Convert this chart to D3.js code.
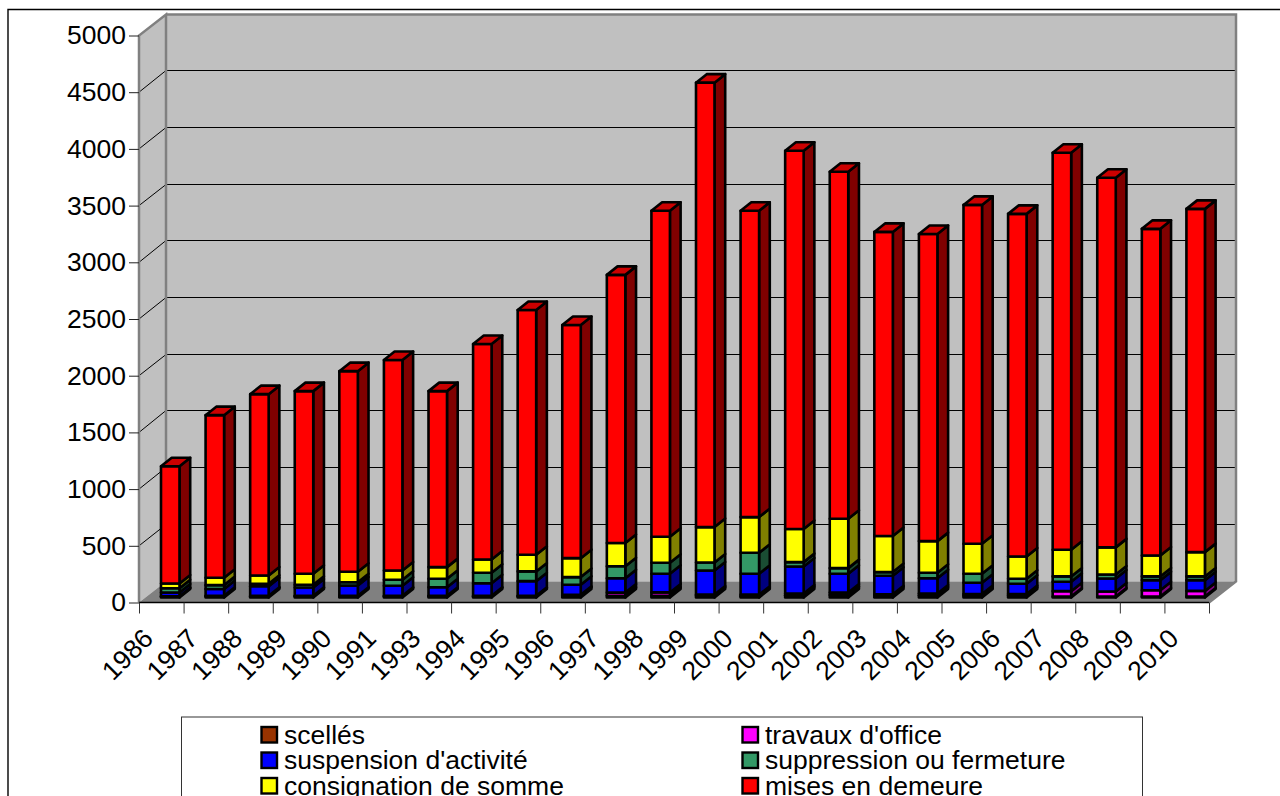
<!DOCTYPE html>
<html lang="fr">
<head>
<meta charset="utf-8">
<script src="https://cdn.jsdelivr.net/npm/d3@7"></script>
<style>
html,body{margin:0;padding:0;background:#fff;overflow:hidden}
svg{display:block}
text{font-family:"Liberation Sans",Arial,sans-serif;fill:#000}
</style>
</head>
<body>
<svg id="chart" width="1280" height="796"></svg>
<script>
// Sanctions administratives par année, empilées du bas vers le haut
const years = ["1986","1987","1988","1989","1990","1991","1993","1994","1995","1996","1997","1998","1999","2000","2001","2002","2003","2004","2005","2006","2007","2008","2009","2010"];
const scelles = [8,12,12,12,12,12,12,12,12,15,15,15,15,12,20,22,20,18,15,15,8,8,8,8];
const travaux = [2,3,3,3,3,3,3,3,3,8,28,30,12,13,15,22,8,17,15,15,48,45,56,50];
const suspension = [34,60,85,73,90,88,76,111,129,89,127,164,211,184,239,165,164,135,100,91,83,115,89,95];
const suppression = [38,34,21,25,30,53,74,92,86,68,106,97,71,185,38,50,32,48,79,44,47,35,33,33];
const consignation = [42,65,73,96,92,82,103,117,147,167,204,230,312,315,292,436,318,279,265,197,235,239,185,214];
const mises = [1033,1434,1599,1611,1769,1856,1552,1900,2158,2056,2365,2874,3919,2701,3336,3059,2682,2709,2988,3021,3501,3259,2880,3027];
const yTicks = [0,500,1000,1500,2000,2500,3000,3500,4000,4500,5000];

const seriesNames = ["scellés","travaux d'office","suspension d'activité","suppression ou fermeture","consignation de somme","mises en demeure"];
const seriesValues = [scelles,travaux,suspension,suppression,consignation,mises];
const seriesColors = ["#993300","#ff00ff","#0000ff","#339966","#ffff00","#ff0000"];

const svg = d3.select("#chart");

// Repère : plan avant et décalage de la paroi du fond
const left = 139, right = 1209, y0 = 602.5, y5000 = 35.5;
const wallDx = 27, wallDy = -21;
const barDx = 10.7, barDy = -8.5;

const x = d3.scaleBand().domain(years).range([left,right]).paddingInner(0).paddingOuter(0);
const xEdge = d3.scaleLinear().domain([0,years.length]).range([left,right]);
const y = d3.scaleLinear().domain([0,5000]).range([y0,y5000]);

const FS = 26.5;

// Cadre extérieur, ouvert à droite et en bas
svg.append("path").attr("d","M8,796V9.5H1280").attr("fill","none").attr("stroke","#000").attr("stroke-width",1.4);

// Parois et sol
const pts = a => a.map(p=>p.join(",")).join(" ");
const wallTop = y5000+wallDy, wallBottom = y0+wallDy;
svg.append("polygon").attr("points",pts([[left+wallDx,wallTop],[right+wallDx,wallTop],[right+wallDx,wallBottom],[left+wallDx,wallBottom]])).attr("fill","#c0c0c0");
svg.append("polygon").attr("points",pts([[left,y5000],[left+wallDx,wallTop],[left+wallDx,wallBottom],[left,y0]])).attr("fill","#c0c0c0");
svg.append("polygon").attr("points",pts([[left,y0],[left+wallDx,wallBottom],[right+wallDx,wallBottom],[right,y0]])).attr("fill","#808080");

// Quadrillage sur le fond et la paroi gauche
const grid = svg.append("g").attr("stroke","#000").attr("stroke-width",1).attr("fill","none");
yTicks.filter(t=>t>0&&t<5000).forEach(t=>{
  const yy = Math.round(y(t)+wallDy)-0.5;
  grid.append("path").attr("d",`M${left},${y(t)}L${left+wallDx},${yy}H${right+wallDx}`);
});

// Arêtes grises
svg.append("path")
  .attr("d",`M${left},${y0}V${y5000}L${left+wallDx},${wallTop}V${wallBottom}M${left+wallDx},${wallTop}H${right+wallDx}V${wallBottom}L${right},${y0}`)
  .attr("fill","none").attr("stroke","#808080").attr("stroke-width",2.5);

// Barres empilées en pseudo-relief
const stacks = years.map((yr,i)=>{
  let acc = 0;
  return seriesValues.map((vals,s)=>{ const a=acc; acc+=vals[i]; return {yr,s,a,b:acc}; });
});
const barG = svg.append("g").attr("stroke","#000").attr("stroke-width",2.6).attr("stroke-linejoin","round");
const barW = 18.5, barOff = 22;
const darker = c => { const r=d3.rgb(c); return d3.rgb(r.r/2,r.g/2,r.b/2).formatHex(); };
stacks.forEach(stack=>{
  stack.forEach(d=>{
    const x1 = x(d.yr)+barOff, x2 = x1+barW;
    const yb = y(d.a)-5, yt = y(d.b)-5;
    barG.append("polygon").attr("points",pts([[x2,yb],[x2+barDx,yb+barDy],[x2+barDx,yt+barDy],[x2,yt]])).attr("fill",darker(seriesColors[d.s]));
    barG.append("rect").attr("x",x1).attr("y",yt).attr("width",barW).attr("height",yb-yt).attr("fill",seriesColors[d.s]);
    if(d.s===seriesNames.length-1){
      barG.append("polygon").attr("points",pts([[x1,yt],[x1+barDx,yt+barDy],[x2+barDx,yt+barDy],[x2,yt]])).attr("fill","#cc0000");
    }
  });
});

// Axe vertical
const yAxis = svg.append("g").attr("transform",`translate(${left},0)`)
  .call(d3.axisLeft(y).tickValues(yTicks).tickSize(10).tickPadding(3).tickFormat(d3.format("d")));
yAxis.select(".domain").remove();
yAxis.selectAll("line").attr("stroke","#222");
yAxis.selectAll("text").attr("font-size",FS).style("font-family",'"Liberation Sans",Arial,sans-serif');

// Axe horizontal : graduations aux limites de catégories
const xAxis = svg.append("g").attr("transform",`translate(0,${y0})`)
  .call(d3.axisBottom(xEdge).tickValues(d3.range(years.length+1)).tickSize(11).tickFormat(""));
xAxis.select(".domain").attr("stroke","#000").attr("stroke-width",1.5).attr("d",`M${left},0H${right}`);
xAxis.selectAll("line").attr("stroke","#333");

svg.append("g").selectAll("text").data(years).join("text")
  .attr("transform",d=>`translate(${x(d)+x.bandwidth()/2-20},${y0+24}) rotate(-45)`)
  .attr("text-anchor","end").attr("dy","0.72em").attr("font-size",FS).text(d=>d);

// Légende, coupée par le bas de la page
svg.append("rect").attr("x",181.5).attr("y",717).attr("width",961).attr("height",100).attr("fill","#fff").attr("stroke","#333").attr("stroke-width",1);
const colX = [260,741], rowY = [734.5,760,785.5];
const leg = svg.append("g");
seriesNames.forEach((n,i)=>{
  const cx = colX[i%2], cy = rowY[Math.floor(i/2)];
  leg.append("rect").attr("x",cx+1.5).attr("y",cy-7.5).attr("width",15.5).attr("height",15.5).attr("fill",seriesColors[i]).attr("stroke","#000").attr("stroke-width",2.4);
  leg.append("text").attr("x",cx+24).attr("y",cy+9).attr("font-size",FS).text(n);
});
</script>
</body>
</html>
